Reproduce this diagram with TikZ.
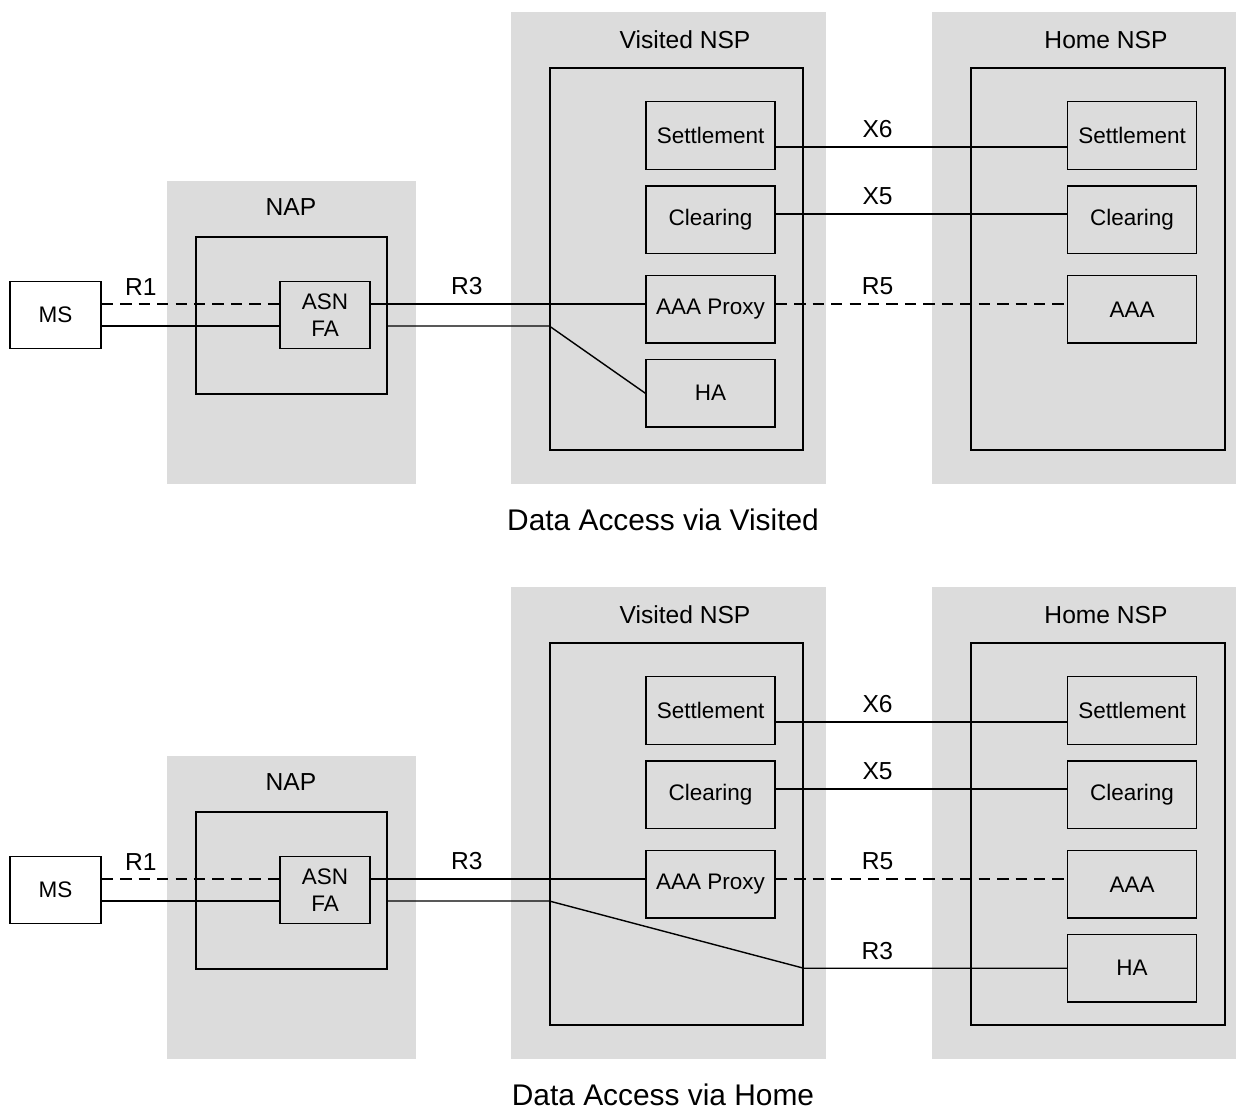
\documentclass[tikz,border=0pt]{standalone}
\usepackage{fontspec}
\setmainfont{Liberation Sans}
\usetikzlibrary{positioning}
\definecolor{panelgray}{RGB}{220,220,220}

\tikzset{
  frame/.style={draw, line width=0.8pt, inner sep=0pt},
  unit/.style={draw, line width=0.8pt, minimum width=2.58cm, minimum height=1.35cm, inner sep=0pt, align=center, font=\fontsize{12.8}{15.4}\selectfont},
  link/.style={line width=0.8pt},
  dashlink/.style={line width=0.8pt, dash pattern=on 6.5pt off 4pt},
  lbl/.style={inner sep=2pt, font=\fontsize{14}{16}\selectfont},
  caption/.style={inner sep=0pt, font=\fontsize{17}{20}\selectfont}
}

\begin{document}
\begin{tikzpicture}
\useasboundingbox (0,0) rectangle (24.72,-22.2);

% Data access via visited %
\begin{scope}
% Panels %
\fill[panelgray] (3.34,-3.62) rectangle (8.32,-9.68);
\fill[panelgray] (10.22,-0.24) rectangle (16.52,-9.68);
\fill[panelgray] (18.64,-0.24) rectangle (24.72,-9.68);
\node[lbl] (napt1) at (5.82,-4.14) {NAP};
\node[lbl] (vnspt1) at (13.7,-0.8) {Visited NSP};
\node[lbl] (hnspt1) at (22.12,-0.8) {Home NSP};

% Frames %
\node[frame, minimum width=3.82cm, minimum height=3.14cm] (nap1) at (5.83,-6.31) {};
\node[frame, minimum width=5.06cm, minimum height=7.64cm] (vin1) at (13.53,-5.18) {};
\node[frame, minimum width=5.08cm, minimum height=7.64cm] (hin1) at (21.96,-5.18) {};

% Nodes %
\node[unit, minimum width=1.82cm] (ms1) at (1.11,-6.30) {MS};
\node[unit, minimum width=1.80cm] (asn1) at (6.5,-6.30) {ASN\\FA};
\node[unit] (vset1) at (14.21,-2.71) {Settlement};
\node[unit, below=0.31 of vset1] (vclr1) {Clearing};
\node[unit, below=0.41 of vclr1] (prx1) {AAA Proxy};
\node[unit, below=0.30 of prx1] (vha1) {HA};
\node[unit] (hset1) at (22.64,-2.71) {Settlement};
\node[unit, below=0.31 of hset1] (hclr1) {Clearing};
\node[unit, below=0.41 of hclr1] (aaa1) {AAA};
\coordinate (hi1) at ([yshift=0.22cm]asn1.east);
\coordinate (lo1) at ([yshift=-0.22cm]asn1.east);

% Edges %
\draw[dashlink] ([yshift=0.22cm]ms1.east) -- ([yshift=0.22cm]asn1.west) node[lbl, pos=0.22, above=2.6pt] (r1lbl1) {R1};
\draw[link] ([yshift=-0.22cm]ms1.east) -- ([yshift=-0.22cm]asn1.west);
\draw[link] (hi1) -- (hi1 -| prx1.west) node[lbl, pos=0.35, above=2.6pt] (r3lbl1) {R3};
\draw[link] (lo1 -| nap1.east) -- (lo1 -| vin1.west) -- (vha1.west);
\draw[link] ([yshift=-0.23cm]vset1.east) -- ([yshift=-0.23cm]vset1.east -| hset1.west) node[lbl, pos=0.35, above=2.6pt] (x6lbl1) {X6};
\draw[link] ([yshift=0.12cm]vclr1.east) -- ([yshift=0.12cm]vclr1.east -| hclr1.west) node[lbl, pos=0.35, above=2.6pt] (x5lbl1) {X5};
\draw[dashlink] (hi1 -| prx1.east) -- (hi1 -| aaa1.west) node[lbl, pos=0.35, above=2.6pt] (r5lbl1) {R5};

\node[caption] (cap1) at (13.26,-10.4) {Data Access via Visited};
\end{scope}

% Data access via home %
\begin{scope}[yshift=-11.5cm]
% Panels %
\fill[panelgray] (3.34,-3.62) rectangle (8.32,-9.68);
\fill[panelgray] (10.22,-0.24) rectangle (16.52,-9.68);
\fill[panelgray] (18.64,-0.24) rectangle (24.72,-9.68);
\node[lbl] (napt2) at (5.82,-4.14) {NAP};
\node[lbl] (vnspt2) at (13.7,-0.8) {Visited NSP};
\node[lbl] (hnspt2) at (22.12,-0.8) {Home NSP};

% Frames %
\node[frame, minimum width=3.82cm, minimum height=3.14cm] (nap2) at (5.83,-6.31) {};
\node[frame, minimum width=5.06cm, minimum height=7.64cm] (vin2) at (13.53,-5.18) {};
\node[frame, minimum width=5.08cm, minimum height=7.64cm] (hin2) at (21.96,-5.18) {};

% Nodes %
\node[unit, minimum width=1.82cm] (ms2) at (1.11,-6.30) {MS};
\node[unit, minimum width=1.80cm] (asn2) at (6.5,-6.30) {ASN\\FA};
\node[unit] (vset2) at (14.21,-2.71) {Settlement};
\node[unit, below=0.31 of vset2] (vclr2) {Clearing};
\node[unit, below=0.41 of vclr2] (prx2) {AAA Proxy};
\node[unit] (hset2) at (22.64,-2.71) {Settlement};
\node[unit, below=0.31 of hset2] (hclr2) {Clearing};
\node[unit, below=0.41 of hclr2] (aaa2) {AAA};
\node[unit, below=0.30 of aaa2] (hha2) {HA};
\coordinate (hi2) at ([yshift=0.22cm]asn2.east);
\coordinate (lo2) at ([yshift=-0.22cm]asn2.east);

% Edges %
\draw[dashlink] ([yshift=0.22cm]ms2.east) -- ([yshift=0.22cm]asn2.west) node[lbl, pos=0.22, above=2.6pt] (r1lbl2) {R1};
\draw[link] ([yshift=-0.22cm]ms2.east) -- ([yshift=-0.22cm]asn2.west);
\draw[link] (hi2) -- (hi2 -| prx2.west) node[lbl, pos=0.35, above=2.6pt] (r3lbl2) {R3};
\draw[link] (lo2 -| nap2.east) -- (lo2 -| vin2.west) -- (hha2.west -| vin2.east) -- (hha2.west) node[lbl, pos=0.28, above=2.6pt] (r3hlbl2) {R3};
\draw[link] ([yshift=-0.23cm]vset2.east) -- ([yshift=-0.23cm]vset2.east -| hset2.west) node[lbl, pos=0.35, above=2.6pt] (x6lbl2) {X6};
\draw[link] ([yshift=0.12cm]vclr2.east) -- ([yshift=0.12cm]vclr2.east -| hclr2.west) node[lbl, pos=0.35, above=2.6pt] (x5lbl2) {X5};
\draw[dashlink] (hi2 -| prx2.east) -- (hi2 -| aaa2.west) node[lbl, pos=0.35, above=2.6pt] (r5lbl2) {R5};

\node[caption] (cap2) at (13.26,-10.4) {Data Access via Home};
\end{scope}

\end{tikzpicture}
\end{document}
